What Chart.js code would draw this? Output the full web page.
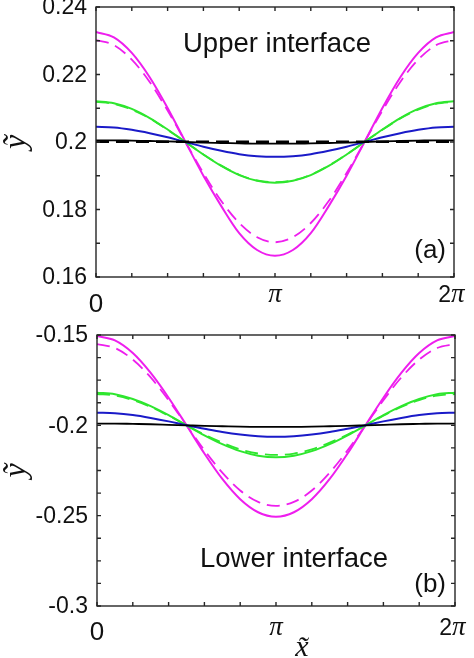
<!DOCTYPE html>
<html>
<head>
<meta charset="utf-8">
<script src="https://cdn.jsdelivr.net/npm/chart.js@4.4.1/dist/chart.umd.min.js"></script>
<style>
html,body{margin:0;padding:0;background:#fff;}
#wrap{position:relative;width:474px;height:658px;}
canvas{position:absolute;left:0;}
#c1{top:0;}
#c2{top:320px;}
</style>
</head>
<body>
<div id="wrap">
<canvas id="c1" width="474" height="320"></canvas>
<canvas id="c2" width="474" height="338"></canvas>
</div>
<script>
// x positions in multiples of pi
const xPi = [0,0.1,0.2,0.3,0.4,0.5,0.6,0.7,0.8,0.9,1.0,1.1,1.2,1.3,1.4,1.5,1.6,1.7,1.8,1.9,2.0];

// Upper interface (a)
const magentaSolidTop = [0.2326,0.2310,0.2264,0.2192,0.2101,0.2000,0.1900,0.1810,0.1730,0.1680,0.1663,0.1680,0.1730,0.1810,0.1900,0.2000,0.2101,0.2192,0.2264,0.2310,0.2326];
const magentaDashTop  = [0.2302,0.2287,0.2244,0.2178,0.2093,0.2000,0.1908,0.1825,0.1760,0.1718,0.1703,0.1718,0.1760,0.1825,0.1908,0.2000,0.2093,0.2178,0.2244,0.2287,0.2302];
const greenSolidTop   = [0.2121,0.2115,0.2098,0.2071,0.2037,0.2000,0.1963,0.1929,0.1902,0.1885,0.1879,0.1885,0.1902,0.1929,0.1963,0.2000,0.2037,0.2071,0.2098,0.2115,0.2121];
const greenDashTop    = [0.2119,0.2113,0.2096,0.2070,0.2036,0.2000,0.1963,0.1930,0.1903,0.1886,0.1881,0.1886,0.1903,0.1930,0.1963,0.2000,0.2036,0.2070,0.2096,0.2113,0.2119];
const blueSolidTop    = [0.2045,0.2043,0.2036,0.2026,0.2014,0.2000,0.1986,0.1974,0.1964,0.1958,0.1956,0.1958,0.1964,0.1974,0.1986,0.2000,0.2014,0.2026,0.2036,0.2043,0.2045];
const blackSolidTop   = [0.2005,0.2005,0.2004,0.2003,0.2002,0.2000,0.1998,0.1997,0.1996,0.1995,0.1995,0.1995,0.1996,0.1997,0.1998,0.2000,0.2002,0.2003,0.2004,0.2005,0.2005];
const blackDashTop    = [0.2001,0.2001,0.2001,0.2001,0.2001,0.2001,0.2001,0.2001,0.2001,0.2001,0.2001,0.2001,0.2001,0.2001,0.2001,0.2001,0.2001,0.2001,0.2001,0.2001,0.2001];

// Lower interface (b)
const magentaSolidBot = [-0.1506,-0.1530,-0.1600,-0.1710,-0.1847,-0.2000,-0.2156,-0.2297,-0.2409,-0.2481,-0.2506,-0.2481,-0.2409,-0.2297,-0.2156,-0.2000,-0.1847,-0.1710,-0.1600,-0.1530,-0.1506];
const magentaDashBot  = [-0.1550,-0.1572,-0.1636,-0.1735,-0.1861,-0.2000,-0.2138,-0.2262,-0.2361,-0.2424,-0.2446,-0.2424,-0.2361,-0.2262,-0.2138,-0.2000,-0.1861,-0.1735,-0.1636,-0.1572,-0.1550];
const greenSolidBot   = [-0.1819,-0.1828,-0.1854,-0.1894,-0.1944,-0.2000,-0.2055,-0.2104,-0.2143,-0.2168,-0.2177,-0.2168,-0.2143,-0.2104,-0.2055,-0.2000,-0.1944,-0.1894,-0.1854,-0.1828,-0.1819];
const greenDashBot    = [-0.1827,-0.1835,-0.1860,-0.1898,-0.1947,-0.2000,-0.2051,-0.2096,-0.2133,-0.2156,-0.2164,-0.2156,-0.2133,-0.2096,-0.2051,-0.2000,-0.1947,-0.1898,-0.1860,-0.1835,-0.1827];
const blueSolidBot    = [-0.1930,-0.1933,-0.1943,-0.1959,-0.1978,-0.2000,-0.2019,-0.2037,-0.2051,-0.2060,-0.2063,-0.2060,-0.2051,-0.2037,-0.2019,-0.2000,-0.1978,-0.1959,-0.1943,-0.1933,-0.1930];
const blackSolidBot   = [-0.1990,-0.1990,-0.1992,-0.1994,-0.1997,-0.2000,-0.2003,-0.2005,-0.2007,-0.2008,-0.2008,-0.2008,-0.2007,-0.2005,-0.2003,-0.2000,-0.1997,-0.1994,-0.1992,-0.1990,-0.1990];

// ticks
const xTickPi = [0,0.2,0.4,0.6,0.8,1.0,1.2,1.4,1.6,1.8,2.0];
const xLabelPi = [0,1,2];
const xLabelText = ['0','π','2π'];
const yLabelsTop = [0.16,0.18,0.2,0.22,0.24];
const yLabelsTopText = ['0.16','0.18','0.2','0.22','0.24'];
const yMinorTop = [0.16,0.17,0.18,0.19,0.2,0.21,0.22,0.23,0.24];
const yLabelsBot = [-0.3,-0.25,-0.2,-0.15];
const yLabelsBotText = ['-0.3','-0.25','-0.2','-0.15'];
const yMinorBot = [-0.3,-0.2875,-0.275,-0.2625,-0.25,-0.2375,-0.225,-0.2125,-0.2,-0.1875,-0.175,-0.1625,-0.15];

const MAG = '#ee1eee', GRN = '#2ee62e', BLU = '#1a1ac8', BLK = '#000000';
const AX = '#262626';
const SANS = '"Liberation Sans", Arial, Helvetica, sans-serif';
const SERIF = '"Liberation Serif", "Times New Roman", serif';

function pts(arr){ return arr.map((v,i)=>({x:xPi[i], y:v})); }
function ds(arr, color, dashed, w){
  return {data: pts(arr), borderColor: color, borderWidth: w, borderDash: dashed ? [13,7] : [],
    pointRadius: 0, fill: false, cubicInterpolationMode: 'monotone'};
}

function framePlugin(p){
  return {
    id: 'frame',
    afterDraw(chart){
      const ctx = chart.ctx, a = chart.chartArea;
      const xs = chart.scales.x, ys = chart.scales.y;
      ctx.save();
      ctx.strokeStyle = AX; ctx.lineWidth = 1.4;
      ctx.strokeRect(a.left, a.top, a.right - a.left, a.bottom - a.top);
      const tl = 4;
      ctx.beginPath();
      xTickPi.forEach(v=>{
        const px = xs.getPixelForValue(v);
        ctx.moveTo(px, a.bottom); ctx.lineTo(px, a.bottom - tl);
        ctx.moveTo(px, a.top); ctx.lineTo(px, a.top + tl);
      });
      p.yMinor.forEach(v=>{
        const py = ys.getPixelForValue(v);
        ctx.moveTo(a.left, py); ctx.lineTo(a.left + tl, py);
        ctx.moveTo(a.right, py); ctx.lineTo(a.right - tl, py);
      });
      ctx.stroke();
      // y tick labels
      ctx.fillStyle = '#111';
      ctx.font = '23px ' + SANS;
      ctx.textAlign = 'right'; ctx.textBaseline = 'middle';
      p.yLab.forEach((v,i)=>{
        ctx.fillText(p.yLabText[i], a.left - 9, ys.getPixelForValue(v) + 1);
      });
      // x tick labels
      ctx.textBaseline = 'alphabetic';
      xLabelPi.forEach((v,i)=>{
        const px = xs.getPixelForValue(v);
        const t = xLabelText[i];
        if (t === '0') {
          ctx.font = '26px ' + SANS; ctx.textAlign = 'center';
          ctx.fillText('0', px, a.bottom + p.zeroOff);
        } else if (t === 'π') {
          ctx.font = 'italic 27px ' + SERIF; ctx.textAlign = 'center';
          ctx.fillText('π', px, a.bottom + p.piOff);
        } else {
          ctx.font = '23px ' + SANS; ctx.textAlign = 'right';
          ctx.fillText('2', px - 3, a.bottom + p.piOff);
          ctx.font = 'italic 27px ' + SERIF; ctx.textAlign = 'left';
          ctx.fillText('π', px - 3, a.bottom + p.piOff);
        }
      });
      // annotation
      ctx.font = '27.5px ' + SANS; ctx.textAlign = 'center';
      ctx.fillText(p.title, p.titleX, p.titleY);
      ctx.font = '26px ' + SANS; ctx.textAlign = 'right';
      ctx.fillText(p.tag, 446, p.tagY);
      // y axis title
      ctx.save();
      ctx.translate(18, (a.top + a.bottom) / 2);
      ctx.rotate(-Math.PI / 2);
      ctx.font = 'italic 32px ' + SERIF; ctx.textAlign = 'center';
      ctx.fillText('ỹ', 0, 7);
      ctx.restore();
      if (p.xTitle) {
        ctx.font = 'italic 30px ' + SERIF; ctx.textAlign = 'center';
        ctx.fillText('x\u0303', 302, 336);
      }
      ctx.restore();
    }
  };
}

function makeChart(id, datasets, yMin, yMax, pad, yW, xH, p){
  return new Chart(document.getElementById(id), {
    type: 'line',
    data: { datasets },
    options: {
      responsive: false, animation: false, devicePixelRatio: 1,
      layout: { padding: pad },
      plugins: { legend: {display:false}, tooltip: {enabled:false}, title:{display:false} },
      scales: {
        x: { type:'linear', min:0, max:2, grid:{display:false, drawTicks:false}, border:{display:false},
             ticks:{display:false}, afterFit(s){ s.height = xH; s.paddingLeft = 0; s.paddingRight = 0; } },
        y: { type:'linear', min:yMin, max:yMax, grid:{display:false, drawTicks:false}, border:{display:false},
             ticks:{display:false}, afterFit(s){ s.width = yW; s.paddingTop = 0; s.paddingBottom = 0; } }
      }
    },
    plugins: [framePlugin(p)]
  });
}

makeChart('c1', [
  ds(blackDashTop, BLK, true, 2.5),
  ds(blackSolidTop, BLK, false, 1.8),
  ds(blueSolidTop, BLU, false, 2),
  ds(greenDashTop, GRN, true, 1.8),
  ds(greenSolidTop, GRN, false, 2),
  ds(magentaDashTop, MAG, true, 1.8),
  ds(magentaSolidTop, MAG, false, 2)
], 0.16, 0.24, {top:7, right:20, left:0, bottom:0}, 96, 43,
  {yMinor: yMinorTop, yLab: yLabelsTop, yLabText: yLabelsTopText, zeroOff: 35, piOff: 25,
   title: 'Upper interface', titleX: 277, titleY: 52, tag: '(a)', tagY: 258, xTitle: false});

makeChart('c2', [
  ds(blackSolidBot, BLK, false, 1.8),
  ds(blueSolidBot, BLU, false, 2),
  ds(greenDashBot, GRN, true, 1.8),
  ds(greenSolidBot, GRN, false, 2),
  ds(magentaDashBot, MAG, true, 1.8),
  ds(magentaSolidBot, MAG, false, 2)
], -0.3, -0.15, {top:15, right:19, left:0, bottom:0}, 97, 52,
  {yMinor: yMinorBot, yLab: yLabelsBot, yLabText: yLabelsBotText, zeroOff: 34, piOff: 29,
   title: 'Lower interface', titleX: 294, titleY: 247, tag: '(b)', tagY: 272, xTitle: true});
</script>
</body>
</html>
